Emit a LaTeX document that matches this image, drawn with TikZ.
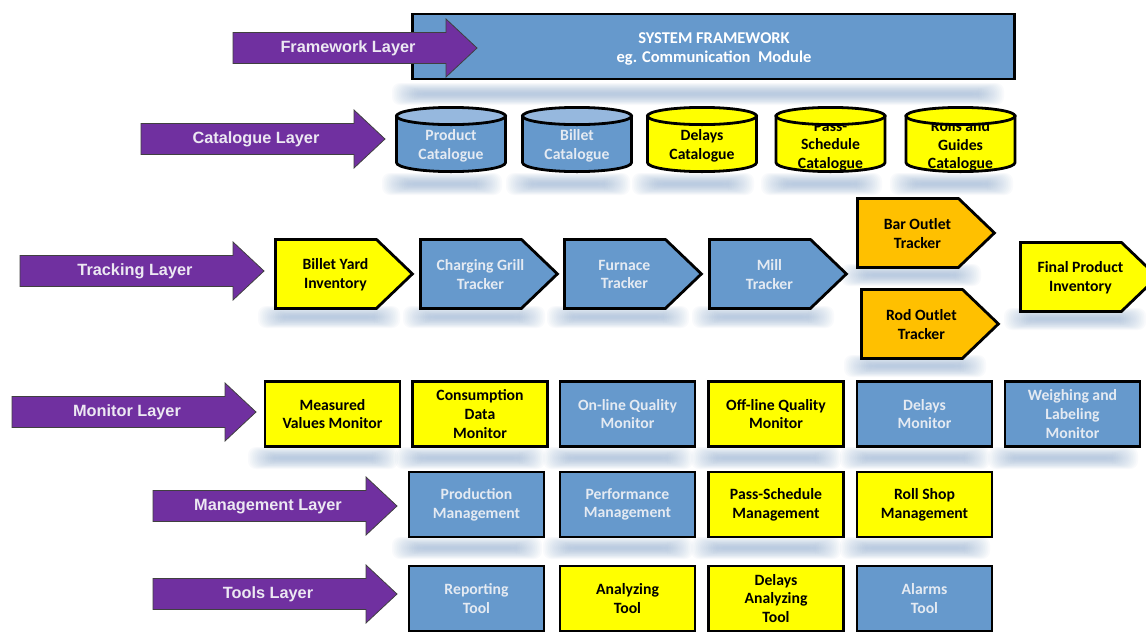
\documentclass[tikz,border=0pt]{standalone}
\usepackage{fontspec}
\setmainfont{Carlito}
\newfontfamily\labelfont{Liberation Sans}

\definecolor{tileblue}{RGB}{102,153,204}
\definecolor{drumtop}{RGB}{150,184,222}
\definecolor{tileyellow}{RGB}{255,255,0}
\definecolor{tileorange}{RGB}{255,192,0}
\definecolor{layerpurple}{RGB}{112,48,160}
\definecolor{paletext}{RGB}{228,234,242}
\definecolor{layertext}{RGB}{236,232,242}
\definecolor{shadowblue}{RGB}{150,178,212}

% soft blue shadow band built from many faint layers: left x, right x, top y
\newcommand\softshadow[3]{%
  \foreach \k in {0,...,15}{%
    \fill[shadowblue, fill opacity=0.055, rounded corners=8pt]
      ({#1+1.7*\k},{#3+0.65*\k}) rectangle ({#2-1.7*\k},{#3+22-0.65*\k});}}

% purple layer arrow: name, left x, centre y, label
\newcommand\layerarrow[4]{%
  \draw[layerarrow] (#2,{#3-15.5}) -- ({#2+213},{#3-15.5}) -- ({#2+213},{#3-29})
    -- ({#2+244},#3) -- ({#2+213},{#3+29}) -- ({#2+213},{#3+15.5})
    -- (#2,{#3+15.5}) -- cycle;
  \node[layerlabel] (#1) at ({#2+115},{#3+0.5}) {#4};}

% tracker pentagon: name, left x, top y, fill, text colour, label
\newcommand\tracker[6]{%
  \draw[outline, fill=#4] (#2,#3) -- ({#2+101},#3) -- ({#2+137},{#3+34.5})
    -- ({#2+101},{#3+69}) -- (#2,{#3+69}) -- cycle;
  \node[tilefont, text=#5] (#1) at ({#2+60},{#3+35}) {#6};}

% catalogue drum: name, centre x, body fill, top fill, text colour, label
\newcommand\catdrum[6]{%
  \draw[outline, fill=#3] ({#2-54.5},116) -- ({#2-54.5},162.6)
    .. controls ({#2-54.5},167.6) and ({#2-30.1},171.6) .. (#2,171.6)
    .. controls ({#2+30.1},171.6) and ({#2+54.5},167.6) .. ({#2+54.5},162.6)
    -- ({#2+54.5},116) -- cycle;
  \node[tilefont, text=#5] (#1) at (#2,146) {#6};
  \draw[outline, fill=#4] (#2,116) ellipse [x radius=54.5, y radius=8.6];}

\begin{document}
\begin{tikzpicture}[x=1pt, y=-1pt,
  outline/.style={draw=black, line width=2.8pt, line join=miter},
  tilefont/.style={font=\fontsize{15.7}{18.7}\selectfont\bfseries, align=center},
  tile/.style={outline, tilefont, minimum width=135, minimum height=65, inner sep=0pt},
  bluetile/.style={tile, fill=tileblue, text=paletext},
  yellowtile/.style={tile, fill=tileyellow, text=black},
  layerarrow/.style={fill=layerpurple, draw=black!75, line width=0.8pt, line join=miter},
  layerlabel/.style={font=\labelfont\fontsize{16.3}{18}\selectfont\bfseries, text=layertext}]

\useasboundingbox[fill=white] (0,0) rectangle (1146,633);

% ---------- shadows ----------
\softshadow{392}{1004}{83}
\foreach \l/\r in {396/506, 520/634, 646/758, 775/886, 904/1017}
  {\softshadow{\l-14}{\r-4}{173}}
\foreach \l in {274, 419, 563, 708}
  {\softshadow{\l-16}{\l+126}{306}}
\softshadow{841}{981}{264}
\softshadow{844}{986}{355}
\softshadow{1004}{1146}{308}
\foreach \l in {264, 411, 559, 707, 856, 1004}
  {\softshadow{\l-16}{\l+134}{447}}
\foreach \l in {408, 559, 707, 856}
  {\softshadow{\l-16}{\l+134}{537}}

% ---------- framework layer ----------
\node[draw=black, line width=2.4pt, fill=tileblue,
      minimum width=602, minimum height=64.5, inner sep=0pt]
  (framework) at (713.5,46.5) {};
\node[text=white, font=\fontsize{16.5}{19}\selectfont\bfseries, align=center]
  (frameworkText) at (714,48.5) {SYSTEM FRAMEWORK\\eg. Communication\ \ Module};
\layerarrow{frameworkLayer}{233}{48}{Framework Layer}

% ---------- catalogue layer ----------
\layerarrow{catalogueLayer}{141}{139}{Catalogue Layer}
\catdrum{productCat}{451}{tileblue}{drumtop}{paletext}{Product\\Catalogue}
\catdrum{billetCat}{577}{tileblue}{drumtop}{paletext}{Billet\\Catalogue}
\catdrum{delaysCat}{702}{tileyellow}{tileyellow}{black}{Delays\\Catalogue}
\catdrum{passCat}{830.5}{tileyellow}{tileyellow}{black}{Pass-\\Schedule\\Catalogue}
\catdrum{rollsCat}{960.5}{tileyellow}{tileyellow}{black}{Rolls and\\Guides\\Catalogue}

% ---------- tracking layer ----------
\layerarrow{trackingLayer}{20}{271}{Tracking Layer}
\tracker{billetYard}{275.4}{239.4}{tileyellow}{black}{Billet Yard\\Inventory}
\tracker{chargingGrill}{420.4}{239.4}{tileblue}{paletext}{Charging Grill\\Tracker}
\tracker{furnace}{564.4}{239.4}{tileblue}{paletext}{Furnace\\Tracker}
\tracker{mill}{709.4}{239.4}{tileblue}{paletext}{Mill\\Tracker}
\tracker{barOutlet}{857.4}{198.4}{tileorange}{black}{Bar Outlet\\Tracker}
\tracker{rodOutlet}{861.4}{289.4}{tileorange}{black}{Rod Outlet\\Tracker}
\tracker{finalProduct}{1020.4}{242.4}{tileyellow}{black}{Final Product\\Inventory}

% ---------- monitor layer ----------
\layerarrow{monitorLayer}{12}{412}{Monitor Layer}
\node[yellowtile] (measured)    at (332.5,414) {Measured\\Values Monitor};
\node[yellowtile] (consumption) at (480,414)   {Consumption\\Data\\Monitor};
\node[bluetile]   (onlineQ)     at (627.5,414) {On-line Quality\\Monitor};
\node[yellowtile] (offlineQ)    at (776,414)   {Off-line Quality\\Monitor};
\node[bluetile]   (delaysMon)   at (924.5,414) {Delays\\Monitor};
\node[bluetile]   (weighing)    at (1072.5,414){Weighing and\\Labeling\\Monitor};

% ---------- management layer ----------
\layerarrow{managementLayer}{153}{506}{Management Layer}
\node[bluetile]   (production)  at (476.5,504.5) {Production\\Management};
\node[bluetile]   (performance) at (627.5,504.5) {Performance\\Management};
\node[yellowtile] (passMgmt)    at (776,504.5)   {Pass-Schedule\\Management};
\node[yellowtile] (rollShop)    at (924.5,504.5) {Roll Shop\\Management};

% ---------- tools layer ----------
\layerarrow{toolsLayer}{153}{594}{Tools Layer}
\node[bluetile]   (reporting)   at (476.5,598.5) {Reporting\\Tool};
\node[yellowtile] (analyzing)   at (627.5,598.5) {Analyzing\\Tool};
\node[yellowtile] (delaysTool)  at (776,598.5)   {Delays\\Analyzing\\Tool};
\node[bluetile]   (alarms)      at (924.5,598.5) {Alarms\\Tool};
\end{tikzpicture}
\end{document}
